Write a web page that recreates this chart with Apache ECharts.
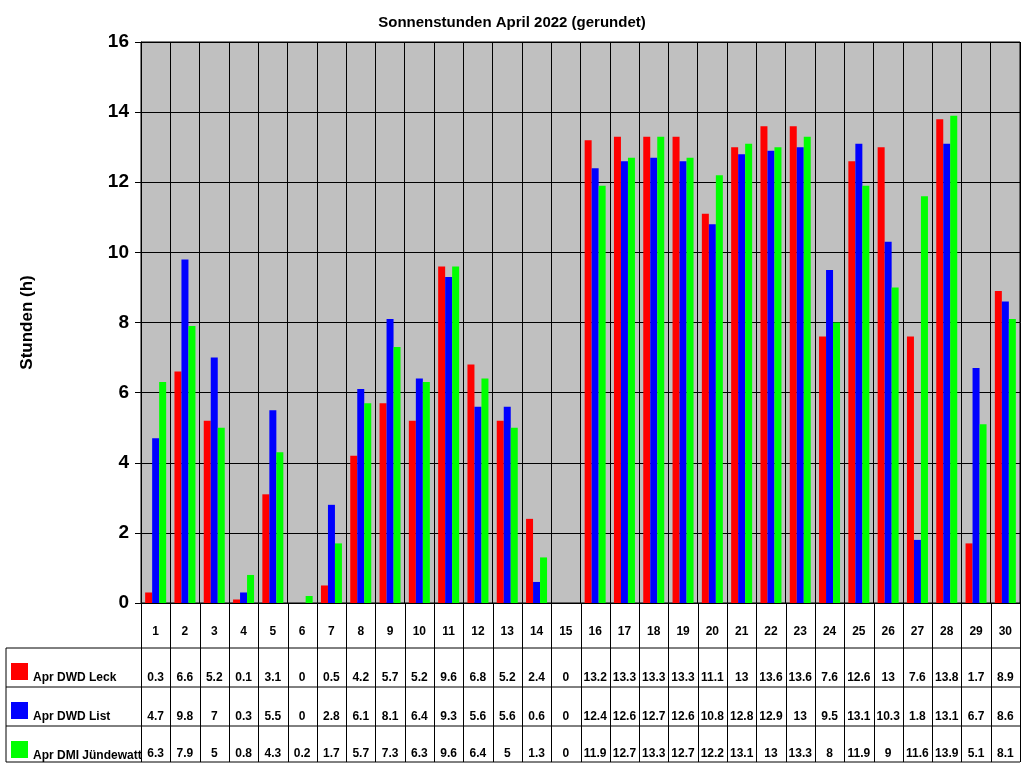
<!DOCTYPE html>
<html>
<head>
<meta charset="utf-8">
<script src="https://cdn.jsdelivr.net/npm/echarts@6/dist/echarts.min.js"></script>
<style>html,body{margin:0;padding:0;background:#fff}#main{width:1024px;height:768px}</style>
</head>
<body>
<div id="main"></div>
<script>
var days = [];
for (var i = 1; i <= 30; i++) days.push(String(i));
var leck = [0.3,6.6,5.2,0.1,3.1,0,0.5,4.2,5.7,5.2,9.6,6.8,5.2,2.4,0,13.2,13.3,13.3,13.3,11.1,13,13.6,13.6,7.6,12.6,13,7.6,13.8,1.7,8.9];
var list = [4.7,9.8,7,0.3,5.5,0,2.8,6.1,8.1,6.4,9.3,5.6,5.6,0.6,0,12.4,12.6,12.7,12.6,10.8,12.8,12.9,13,9.5,13.1,10.3,1.8,13.1,6.7,8.6];
var juende = [6.3,7.9,5,0.8,4.3,0.2,1.7,5.7,7.3,6.3,9.6,6.4,5,1.3,0,11.9,12.7,13.3,12.7,12.2,13.1,13,13.3,8,11.9,9,11.6,13.9,5.1,8.1];
var names = ['Apr DWD Leck', 'Apr DWD List', 'Apr DMI Jündewatt'];
var colors = ['#ff0000', '#0000ff', '#00ff00'];
var values = [leck, list, juende];

var chart = echarts.init(document.getElementById('main'));
var L = 141, R = 1020, T = 42, B = 603;
var font = 'Arial, "Liberation Sans", sans-serif';

function valueAxis(arr, offset) {
	return {
		type: 'category', data: days, position: 'bottom', offset: offset,
		axisLine: {show: false}, axisTick: {show: false},
		axisLabel: {margin: 0, fontSize: 12, fontWeight: 'bold', color: '#000', fontFamily: font, interval: 0,
			formatter: function (v, idx) { return String(arr[idx]); }}
	};
}

var graphic = [];
// table lines
var rowsY = [648, 687, 726, 762];
rowsY.forEach(function (y) {
	graphic.push({type: 'line', shape: {x1: 6, y1: y, x2: R, y2: y}, style: {stroke: '#000', lineWidth: 1}});
});
graphic.push({type: 'line', shape: {x1: 6, y1: 648, x2: 6, y2: 762}, style: {stroke: '#000', lineWidth: 1}});
var cw = (R - L) / days.length;
for (var k = 0; k <= days.length; k++) {
	var x = Math.round(L + k * cw) + 0.5;
	graphic.push({type: 'line', shape: {x1: x, y1: B, x2: x, y2: 762}, style: {stroke: '#000', lineWidth: 1}});
}
names.forEach(function (n, i) {
	var y0 = rowsY[i];
	graphic.push({type: 'rect', shape: {x: 11, y: y0 + 15, width: 17, height: 17}, style: {fill: colors[i]}});
	graphic.push({type: 'text', x: 33, y: y0 + 24, style: {text: n, font: 'bold 12px ' + font, fill: '#000'}});
});

chart.setOption({
	animation: false,
	title: {text: 'Sonnenstunden April 2022 (gerundet)', left: 'center', top: 10,
		textStyle: {fontSize: 15, fontWeight: 'bold', color: '#000', fontFamily: font}},
	grid: {left: L, right: 1024 - R, top: T, bottom: 768 - B, show: true, backgroundColor: '#c0c0c0', borderColor: '#000', borderWidth: 1},
	xAxis: [
		{type: 'category', data: days, position: 'bottom',
			axisLine: {lineStyle: {color: '#000'}}, axisTick: {show: false},
			splitLine: {show: true, interval: 0, lineStyle: {color: '#000', width: 1}},
			axisLabel: {margin: 23, fontSize: 12, fontWeight: 'bold', color: '#000', fontFamily: font, interval: 0}},
		valueAxis(leck, 69),
		valueAxis(list, 108),
		valueAxis(juende, 145)
	],
	yAxis: {type: 'value', min: 0, max: 16, interval: 2,
		name: 'Stunden (h)', nameLocation: 'middle', nameGap: 105, nameRotate: 90,
		nameTextStyle: {fontSize: 17, fontWeight: 'bold', color: '#000', fontFamily: font},
		axisLine: {show: true, lineStyle: {color: '#000'}},
		axisTick: {show: true, length: 6, lineStyle: {color: '#000'}},
		axisLabel: {fontSize: 19, fontWeight: 'bold', color: '#000', fontFamily: font, margin: 12},
		splitLine: {show: true, lineStyle: {color: '#000', width: 1}}},
	series: values.map(function (arr, i) {
		return {name: names[i], type: 'bar', data: arr, xAxisIndex: 0, barWidth: 7, barGap: '0%', barCategoryGap: '20%',
			itemStyle: {color: colors[i]}};
	}),
	graphic: graphic
});
</script>
</body>
</html>
